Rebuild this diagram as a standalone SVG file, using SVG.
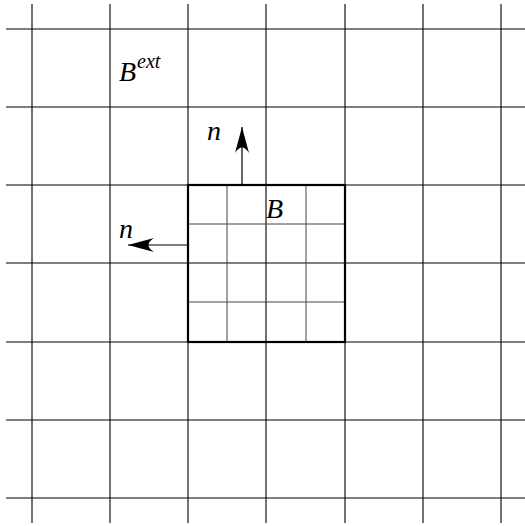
<svg xmlns="http://www.w3.org/2000/svg" width="525" height="526" viewBox="0 0 525 526">
<style>
.g{stroke:#000;stroke-width:1.1;fill:none}
.f{stroke:#444;stroke-width:1;fill:none}
.t{font-family:"Liberation Serif",serif;font-style:italic;font-size:28px;fill:#000}
.s{font-family:"Liberation Serif",serif;font-style:italic;font-size:20px;fill:#000}
</style>
<defs>
<marker id="ah" markerWidth="28" markerHeight="14" refX="26" refY="7" orient="auto" markerUnits="userSpaceOnUse">
<path d="M0,0 Q11,7 0,14 L26,7 Z" fill="#000"/>
</marker>
</defs>
<g id="grid" class="g">
<path d="M32,4V523M110,4V523M188,4V523M266,4V523M345,4V523M423,4V523M501,4V523"/>
<path d="M6,29H525M6,107H525M6,185H525M6,263H525M6,342H525M6,420H525M6,498H525"/>
</g>
<g id="B">
<path class="f" d="M227,185V342M306,185V342M188,224H345M188,302H345"/>
<rect x="188" y="185" width="157" height="157" fill="none" stroke="#000" stroke-width="2.2"/>
<text class="t" x="266" y="218">B</text>
</g>
<g id="Bext">
<text class="t" x="119" y="81">B<tspan class="s" dx="1" dy="-13">ext</tspan></text>
</g>
<g id="connectors" stroke="#000" stroke-width="1.2">
<line x1="242" y1="185" x2="242" y2="127" marker-end="url(#ah)"/>
<line x1="188" y1="245" x2="128" y2="245" marker-end="url(#ah)"/>
</g>
<g id="labels">
<text class="t" x="207" y="140">n</text>
<text class="t" x="119" y="238">n</text>
</g>
</svg>
